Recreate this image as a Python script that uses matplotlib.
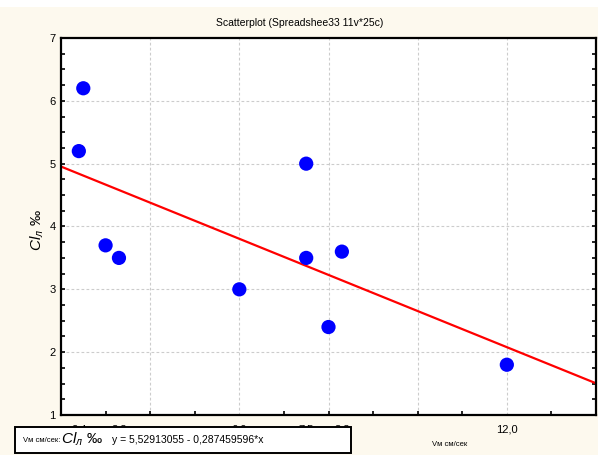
#
#  Scatterplot of Cl (per mille) against Vm, with a linear fit
#
################################################################

import numpy as np
import matplotlib
matplotlib.use("Agg")
import matplotlib.pylab as plt
from matplotlib.patches import Rectangle

plt.rcParams['font.family'] = ['Liberation Sans', 'DejaVu Sans']
plt.rcParams['mathtext.fontset'] = 'custom'
plt.rcParams['mathtext.it'] = 'Liberation Sans:italic'
plt.rcParams['mathtext.rm'] = 'Liberation Sans'

#  data
vm = [2.5, 2.4, 3.0, 3.3, 6.0, 7.5, 7.5, 8.3, 8.0, 12.0]
cl = [6.2, 5.2, 3.7, 3.5, 3.0, 5.0, 3.5, 3.6, 2.4, 1.8]

#  fit as printed on the chart
a, b = 5.52913055, -0.287459596

xlabels_at = [2.4, 3.3, 6.0, 7.5, 8.3, 12.0]
xlabels = ["2,4", "3,3", "6,0", "7,5", "8,3", "12,0"]
xgrid = [4, 6, 8, 10, 12]

title = "Scatterplot (Spreadshee33 11v*25c)"
fit_text = "y = 5,52913055 - 0,287459596*x"

W, H = 598, 455
fig = plt.figure(figsize=(W/100, H/100), dpi=100)
fig.patch.set_facecolor('#fdf9ee')
fig.patches.append(Rectangle((0, 1-7/H), 1, 7/H, transform=fig.transFigure,
                             facecolor='white', edgecolor='none', zorder=1))

ax = fig.add_axes([61/W, 1-415/H, (596-61)/W, (415-38)/H])
ax.set_xlim(2, 14)
ax.set_ylim(1, 7)

for x in xgrid:
    ax.axvline(x, color='#cccccc', lw=0.8, ls=(0, (2.5, 2)), zorder=0)
for y in range(2, 7):
    ax.axhline(y, color='#cccccc', lw=0.8, ls=(0, (2.5, 2)), zorder=0)

xx = np.array([2, 14])
ax.plot(xx, a + b*xx, color='red', lw=1.6, zorder=2)
ax.scatter(vm, cl, s=105, color='#0000ff', edgecolors='none', zorder=3)

for s in ax.spines.values():
    s.set_linewidth(1.6)

ax.set_xticks(xlabels_at)
ax.set_xticklabels(xlabels, fontsize=8)
ax.set_xticks(np.arange(3, 14, 1), minor=True)
ax.set_yticks(range(1, 8))
ax.set_yticklabels([str(i) for i in range(1, 8)], fontsize=8)
ax.set_yticks(np.arange(1, 7.01, 0.25), minor=True)
ax.tick_params(axis='x', which='major', length=0, pad=7)
ax.tick_params(axis='x', which='minor', direction='in', length=3, width=1.2)
ax.tick_params(axis='y', which='both', direction='in', length=3, width=1.2,
               right=True, pad=4)

fig.text(300/W, 1-23/H, title, fontsize=7.5, ha='center', va='center')
fig.text(37/W, 1-230/H, r'$Cl_{л}$ ‰', fontsize=11, rotation=90,
         ha='center', va='center')
fig.text(450/W, 1-444/H, "Vм см/сек", fontsize=5.5, ha='center', va='center')

#  legend box drawn over the lower tick labels
fig.patches.append(Rectangle((15/W, 1-453/H), (351-15)/W, (453-427)/H,
                             transform=fig.transFigure, facecolor='white',
                             edgecolor='black', lw=1.4, zorder=5))
fig.text(23/W, 1-440/H, "Vм см/сек:", fontsize=5.5, ha='left', va='center',
         zorder=6)
fig.text(61/W, 1-439/H, r'$Cl_{л}$ ‰', fontsize=11, ha='left', va='center',
         zorder=6)
fig.text(112/W, 1-440/H, fit_text, fontsize=7.5, ha='left', va='center',
         zorder=6)

plt.savefig("out.png", dpi=100, facecolor=fig.get_facecolor())
